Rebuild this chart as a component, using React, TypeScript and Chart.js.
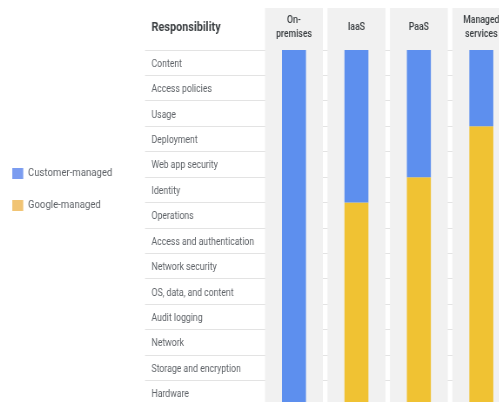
import { useEffect, useRef } from 'react';
import { Chart, registerables } from 'chart.js';

Chart.register(...registerables);

// ---- data ----
const MODELS: (string | string[])[] = [['On-', 'premises'], 'IaaS', 'PaaS', ['Managed', 'services']];
const RESPONSIBILITIES = [
  'Content',
  'Access policies',
  'Usage',
  'Deployment',
  'Web app security',
  'Identity',
  'Operations',
  'Access and authentication',
  'Network security',
  'OS, data, and content',
  'Audit logging',
  'Network',
  'Storage and encryption',
  'Hardware',
];
const SERIES = ['Customer-managed', 'Google-managed'];
const CUSTOMER_ROWS = [14, 6, 5, 3];
const GOOGLE_ROWS = [0, 8, 9, 11];
const HEADER_TITLE = 'Responsibility';

// ---- styles ----
const BAR_COLORS = ['#5d8fee', '#f0c233'];
const LEGEND_COLORS = ['#7b9cf0', '#f1c474'];
const SX = 0.87; // horizontal condensing of the whole picture
const CW = 597;
const CH = 412;

const columnBackdrop = {
  id: 'columnBackdrop',
  beforeDatasetsDraw(chart: any) {
    const { ctx } = chart;
    const x = chart.scales.x;
    const rows = chart.scales.rows;
    const step = x.getPixelForValue(1) - x.getPixelForValue(0);
    const w = step * 0.927;
    ctx.save();
    ctx.fillStyle = '#f1f1f1';
    MODELS.forEach((_, i) => {
      const c = x.getPixelForValue(i);
      ctx.fillRect(c - w / 2, 8, w, chart.height - 8);
    });
    ctx.fillStyle = '#3c4043';
    ctx.font = '700 12.5px Roboto';
    ctx.textAlign = 'left';
    ctx.textBaseline = 'middle';
    ctx.fillText(HEADER_TITLE, rows.left, 28);
    ctx.restore();
  },
};

export default function App() {
  const ref = useRef<HTMLCanvasElement | null>(null);

  useEffect(() => {
    if (!ref.current) return;
    Chart.defaults.font.family = 'Roboto';
    const chart = new Chart(ref.current, {
      type: 'bar',
      data: {
        labels: MODELS as any,
        datasets: [
          {
            label: SERIES[0],
            data: CUSTOMER_ROWS,
            backgroundColor: BAR_COLORS[0],
            borderWidth: 0,
            barPercentage: 0.384,
            categoryPercentage: 1,
            xAxisID: 'x',
            yAxisID: 'y',
          },
          {
            label: SERIES[1],
            data: GOOGLE_ROWS,
            backgroundColor: BAR_COLORS[1],
            borderWidth: 0,
            barPercentage: 0.384,
            categoryPercentage: 1,
            xAxisID: 'x',
            yAxisID: 'y',
          },
        ],
      },
      options: {
        responsive: false,
        maintainAspectRatio: false,
        animation: false,
        layout: { padding: 0 },
        plugins: {
          tooltip: { enabled: false },
          legend: {
            position: 'left',
            align: 'start',
            title: { display: true, text: '', padding: { top: 135, bottom: 0 }, font: { size: 10 } },
            labels: {
              boxWidth: 12.6,
              boxHeight: 11,
              padding: 21,
              color: '#5f6368',
              font: { size: 11 },
              generateLabels: (c: any) =>
                (Chart.defaults.plugins.legend.labels.generateLabels as any)(c).map((l: any, i: number) => ({
                  ...l,
                  fillStyle: LEGEND_COLORS[i],
                  strokeStyle: 'rgba(0,0,0,0)',
                  lineWidth: 0,
                })),
            },
          },
        },
        scales: {
          x: {
            type: 'category',
            position: 'top',
            stacked: true,
            offset: true,
            grid: { display: false, drawTicks: false },
            border: { display: false },
            ticks: {
              z: 1,
              padding: 16,
              crossAlign: 'center',
              color: '#3c4043',
              font: { size: 10, weight: '500', lineHeight: 1.4 },
              maxRotation: 0,
              autoSkip: false,
            },
            afterFit: (s: any) => {
              s.height = 50;
            },
          },
          y: {
            type: 'linear',
            stacked: true,
            display: false,
            min: 0,
            max: 14,
            reverse: true,
          },
          pad: {
            type: 'linear',
            position: 'left',
            display: false,
            weight: 10,
            afterFit: (s: any) => {
              const lw = s.chart.legend ? s.chart.legend.width : 0;
              s.width = Math.max(0, 181 - lw);
            },
          },
          rows: {
            type: 'category',
            labels: RESPONSIBILITIES,
            position: 'left',
            offset: true,
            grid: { offset: true, color: '#e3e3e3', drawTicks: true, tickLength: 135.3, lineWidth: 1 },
            border: { display: false },
            ticks: {
              crossAlign: 'far',
              color: '#5f6368',
              font: { size: 10 },
              autoSkip: false,
              padding: 0,
              labelOffset: 1.5,
            },
            afterFit: (s: any) => {
              s.width = 127.9;
            },
          },
        } as any,
      },
      plugins: [columnBackdrop],
    } as any);
    return () => chart.destroy();
  }, []);

  return (
    <div
      style={{
        position: 'absolute',
        left: -6,
        top: 0,
        width: 505,
        height: 402,
        overflow: 'hidden',
        background: '#ffffff',
      }}
    >
      <canvas
        ref={ref}
        width={CW}
        height={CH}
        style={{
          display: 'block',
          width: CW + 'px',
          height: CH + 'px',
          transform: `scaleX(${SX})`,
          transformOrigin: '0 0',
        }}
      />
    </div>
  );
}
